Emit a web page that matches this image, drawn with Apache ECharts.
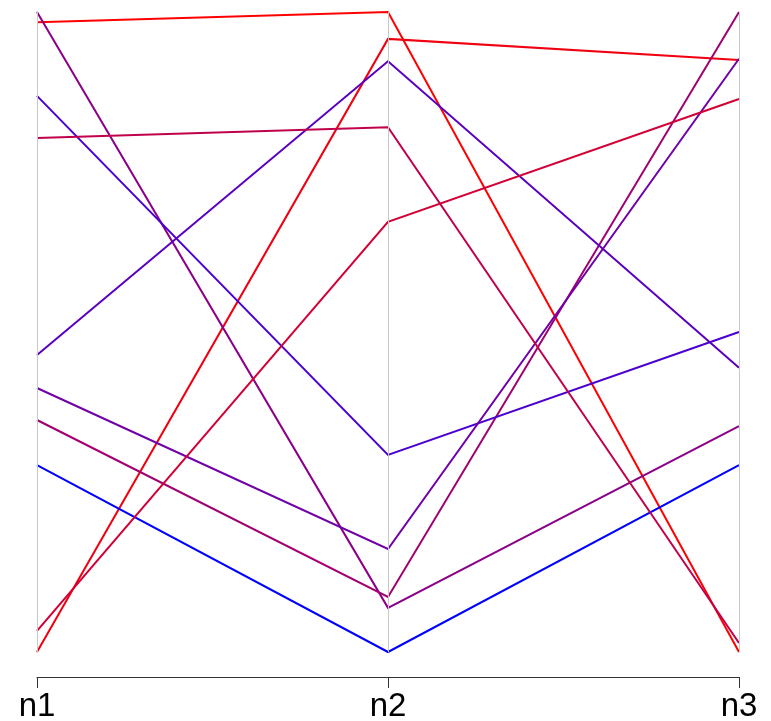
<!DOCTYPE html>
<html>
<head>
<meta charset="utf-8">
<style>html,body{margin:0;padding:0;background:#fff;}#chart{width:771px;height:721px;}</style>
<script src="https://cdn.jsdelivr.net/npm/echarts@6/dist/echarts.min.js"></script>
</head>
<body>
<div id="chart"></div>
<script>
var dimensions = ['n1', 'n2', 'n3'];
var n1 = [0.984, 0.000, 1.000, 0.3625, 0.292, 0.869, 0.464, 0.4125, 0.803, 0.033];
var n2 = [1.000, 0.958, 0.069, 0.086, 0.000, 0.308, 0.923, 0.161, 0.820, 0.672];
var n3 = [0.000, 0.925, 0.353, 1.000, 0.292, 0.500, 0.444, 0.927, 0.014, 0.864];
var lineColors = ['#ff0000', '#f00010', '#8a0088', '#a00070', '#0000ff', '#4a00d0', '#5a00c0', '#7000a8', '#c0004a', '#d20035'];

var data = n1.map(function (v, i) {
  return { value: [n1[i], n2[i], n3[i]], lineStyle: { color: lineColors[i] } };
});

var hiddenLabel = { show: false, color: 'rgba(0,0,0,0)', formatter: function () { return ''; } };

var chart = echarts.init(document.getElementById('chart'));
chart.setOption({
  animation: false,
  backgroundColor: '#ffffff',
  parallel: {
    left: 37, right: 32, top: 12, bottom: 69,
    parallelAxisDefault: {
      axisLine: { lineStyle: { color: '#c8c8c8', width: 1 } },
      axisTick: { show: false },
      axisLabel: hiddenLabel,
      splitLine: { show: false }
    }
  },
  parallelAxis: dimensions.map(function (d, i) {
    return {
      dim: i, name: '', type: 'value', min: 0, max: 1,
      axisLine: { lineStyle: { color: '#c8c8c8', width: 1 } },
      axisTick: { show: false },
      axisLabel: hiddenLabel,
      splitLine: { show: false }
    };
  }),
  grid: { left: 37, right: 32, top: 12, bottom: 44, containLabel: false, outerBoundsMode: 'none' },
  xAxis: {
    type: 'category', data: dimensions, boundaryGap: false,
    axisLine: { lineStyle: { color: '#333', width: 1 } },
    axisTick: { show: true, length: 11, lineStyle: { color: '#333' } },
    axisLabel: { color: '#000', fontSize: 33, fontFamily: '"Liberation Sans", Arial, sans-serif', margin: 13, interval: 0 }
  },
  yAxis: { type: 'value', show: false },
  series: [{
    type: 'parallel',
    lineStyle: { width: 2, opacity: 1 },
    data: data
  }]
});
</script>
</body>
</html>
